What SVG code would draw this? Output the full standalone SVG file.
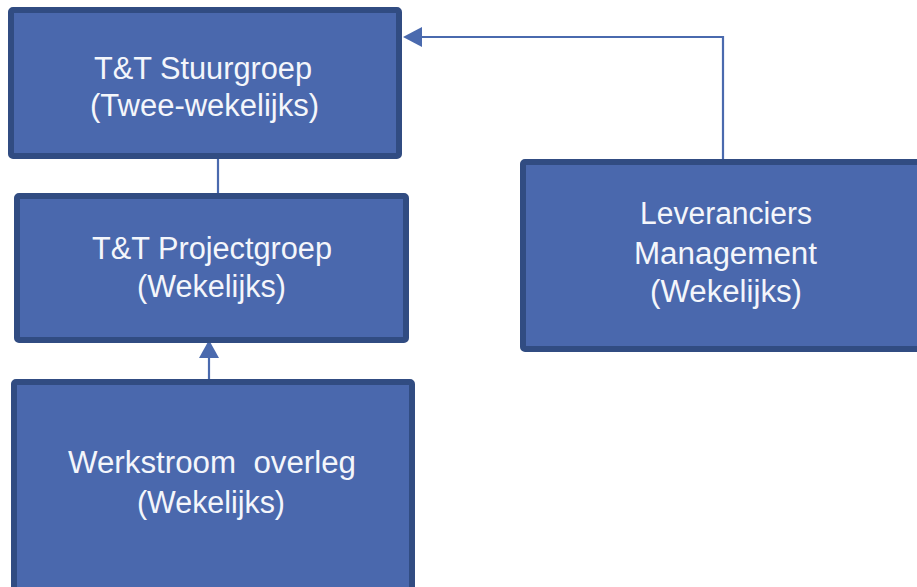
<svg xmlns="http://www.w3.org/2000/svg" width="917" height="587" viewBox="0 0 917 587">
<style>
.box{fill:#4a68ad;stroke:#314c82;stroke-width:6}
.lbl{font-family:"Liberation Sans","Open Sans",sans-serif;font-size:31px;fill:#f4f6fb;text-anchor:middle}
.conn{fill:none;stroke:#4a6aae;stroke-width:2.2}
.head{fill:#4a6aae}
</style>
<rect width="917" height="587" fill="#ffffff"/>
<g id="connectors">
<line class="conn" x1="218" y1="196" x2="218" y2="158"/>
<line class="conn" x1="209" y1="383" x2="209" y2="356"/>
<polygon class="head" points="209,340 199,358 219,358"/>
<path class="conn" d="M723 162 V37 H420"/>
<polygon class="head" points="403,37 422,27 422,47"/>
</g>
<g id="stuurgroep">
<rect class="box" x="11" y="10" width="388" height="146" rx="2"/>
<text class="lbl" x="203" y="79" textLength="218" lengthAdjust="spacingAndGlyphs">T&amp;T Stuurgroep</text>
<text class="lbl" x="204.5" y="116" textLength="229" lengthAdjust="spacingAndGlyphs">(Twee-wekelijks)</text>
</g>
<g id="projectgroep">
<rect class="box" x="17" y="196" width="389" height="144" rx="2"/>
<text class="lbl" x="212" y="259" textLength="240" lengthAdjust="spacingAndGlyphs">T&amp;T Projectgroep</text>
<text class="lbl" x="211.5" y="297" textLength="149" lengthAdjust="spacingAndGlyphs">(Wekelijks)</text>
</g>
<g id="werkstroom">
<rect class="box" x="14" y="382" width="398" height="220" rx="2"/>
<text class="lbl" x="212" y="473" textLength="288" lengthAdjust="spacingAndGlyphs" xml:space="preserve">Werkstroom  overleg</text>
<text class="lbl" x="211" y="513" textLength="148" lengthAdjust="spacingAndGlyphs">(Wekelijks)</text>
</g>
<g id="leveranciers">
<rect class="box" x="523" y="162" width="412" height="187" rx="2"/>
<text class="lbl" x="726" y="224" textLength="172" lengthAdjust="spacingAndGlyphs">Leveranciers</text>
<text class="lbl" x="725.5" y="264" textLength="183" lengthAdjust="spacingAndGlyphs">Management</text>
<text class="lbl" x="726" y="302" textLength="152" lengthAdjust="spacingAndGlyphs">(Wekelijks)</text>
</g>
</svg>
